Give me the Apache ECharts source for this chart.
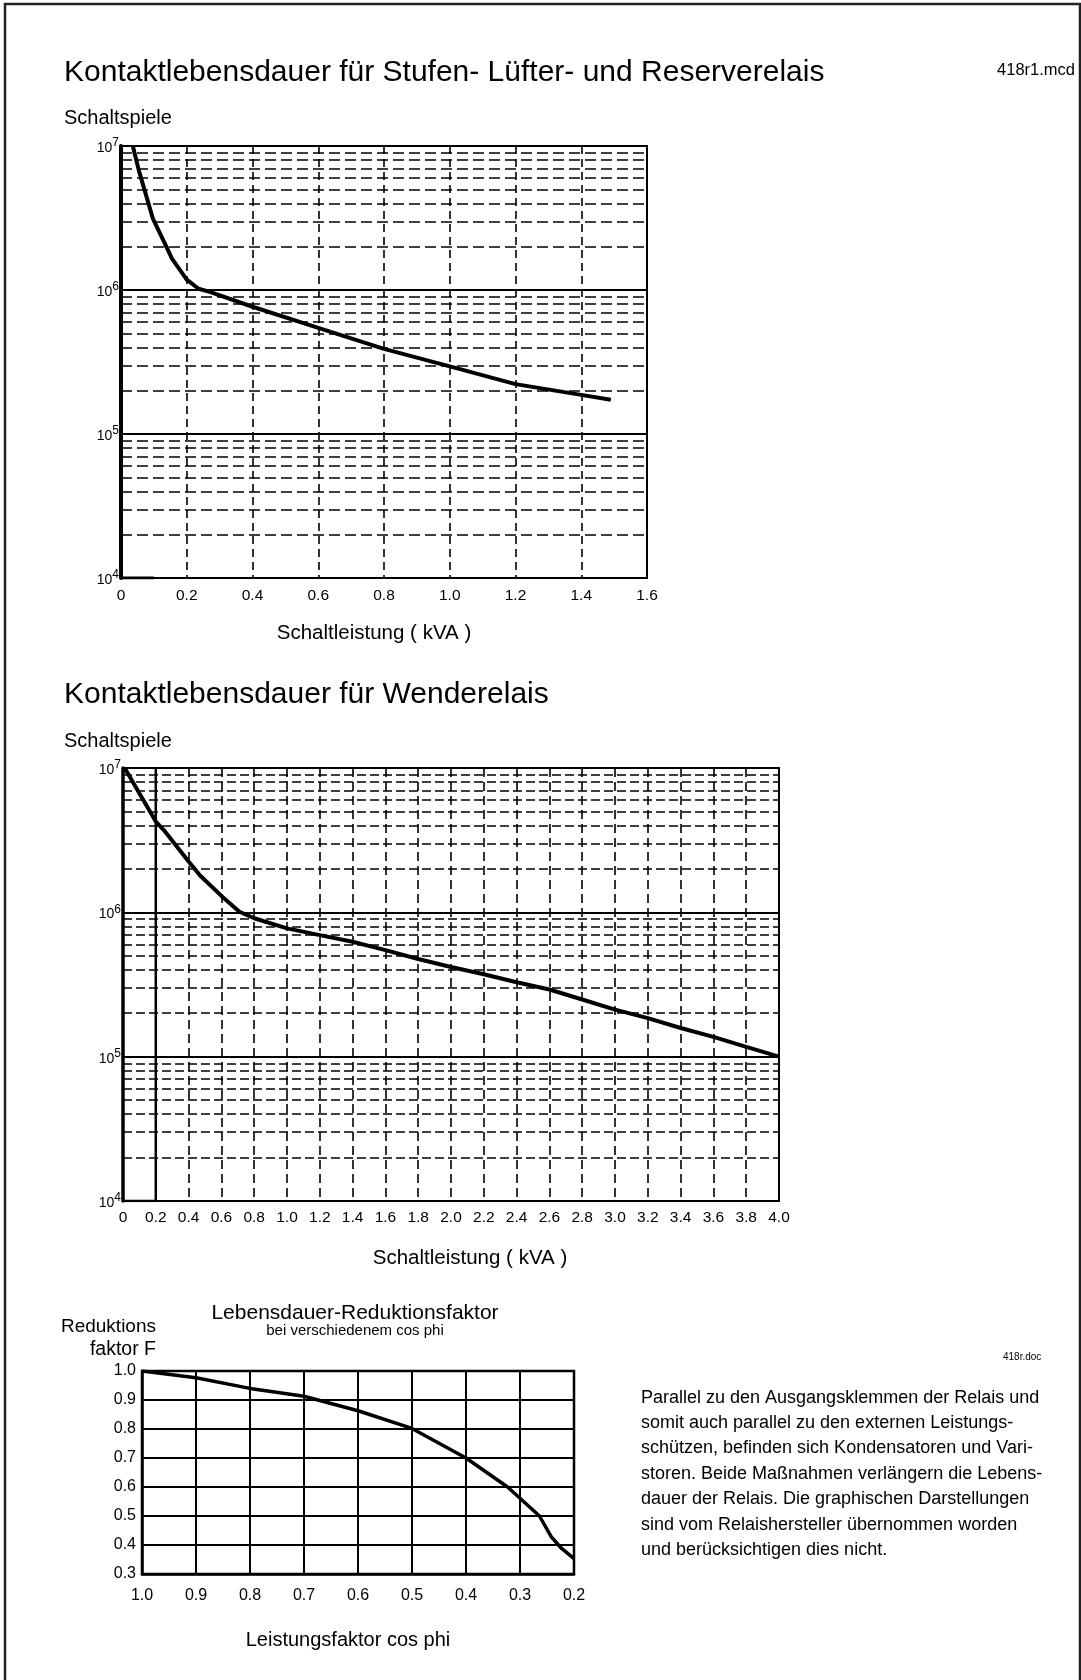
<!DOCTYPE html>
<html>
<head>
<meta charset="utf-8">
<script src="https://cdn.jsdelivr.net/npm/echarts@6/dist/echarts.min.js"></script>
<style>
html,body{margin:0;padding:0;background:#fff;}
#c{width:1081px;height:1680px;}
</style>
</head>
<body>
<div id="c"></div>
<script>
// ---- data ----
const kva1    = [0.036, 0.054, 0.097, 0.138, 0.155, 0.2, 0.236, 0.27, 0.4, 0.6, 0.8, 1.0, 1.2, 1.4, 1.49];
const cycles1 = [1e7, 6.8e6, 3.13e6, 2.0e6, 1.65e6, 1.18e6, 1.02e6, 9.7e5, 7.65e5, 5.46e5, 3.9e5, 2.95e5, 2.22e5, 1.87e5, 1.73e5];
const aux1X   = [0, 0.1];
const aux1Y   = [1e4, 1e4];

const kva2    = [0.01, 0.2, 0.25, 0.4, 0.47, 0.6, 0.71, 0.8, 1.0, 1.2, 1.4, 1.6, 1.8, 2.0, 2.2, 2.4, 2.6, 2.8, 3.0, 3.2, 3.4, 3.6, 3.8, 4.0];
const cycles2 = [1e7, 4.26e6, 3.7e6, 2.25e6, 1.8e6, 1.3e6, 1.01e6, 9.1e5, 7.74e5, 6.95e5, 6.25e5, 5.47e5, 4.75e5, 4.18e5, 3.72e5, 3.28e5, 2.92e5, 2.49e5, 2.12e5, 1.85e5, 1.58e5, 1.37e5, 1.17e5, 1.0e5];
const aux2X   = [0, 0.2, 0.2];
const aux2Y   = [1e4, 1e4, 1e7];

const cosPhi  = [1.0, 0.9, 0.8, 0.7, 0.6, 0.5, 0.4, 0.323, 0.3, 0.264, 0.242, 0.223, 0.2];
const factorF = [1.0, 0.977, 0.94, 0.913, 0.863, 0.802, 0.70, 0.60, 0.561, 0.50, 0.428, 0.388, 0.353];

const decades    = [1e4, 1e5, 1e6];
const minorSteps = [2, 3, 4, 5, 6, 7, 8, 9];

const title1 = 'Kontaktlebensdauer für Stufen- Lüfter- und Reserverelais';
const title2 = 'Kontaktlebensdauer für Wenderelais';
const yName  = 'Schaltspiele';
const xName  = 'Schaltleistung ( kVA )';
const paragraph = [
  'Parallel zu den Ausgangsklemmen der Relais und',
  'somit auch parallel zu den externen Leistungs-',
  'schützen, befinden sich Kondensatoren und Vari-',
  'storen. Beide Maßnahmen verlängern die Lebens-',
  'dauer der Relais. Die graphischen Darstellungen',
  'sind vom Relaishersteller übernommen worden',
  'und berücksichtigen dies nicht.'
];

// ---- build ----
const FONT = '"Liberation Sans", Arial, sans-serif';
const zip = (a, b) => a.map((v, i) => [v, b[i]]);
const minorVals = [];
decades.forEach(d => minorSteps.forEach(m => minorVals.push(d * m)));

function minorMark(dash) {
  return {
    silent: true, symbol: ['none', 'none'], animation: false,
    label: {show: false},
    lineStyle: {color: '#000', width: 1.6, type: dash},
    data: minorVals.map(v => ({yAxis: v}))
  };
}

const logLabel = {
  margin: 2, color: '#000',
  formatter: v => '{b|10}{s|' + Math.round(Math.log10(v)) + '}',
  rich: {
    b: {fontSize: 14, lineHeight: 18, verticalAlign: 'bottom', fontFamily: FONT, color: '#000'},
    s: {fontSize: 12, lineHeight: 18, verticalAlign: 'top', fontFamily: FONT, color: '#000'}
  }
};
const kvaLabel = {
  margin: 10, fontSize: 15.5, color: '#000', fontFamily: FONT,
  formatter: v => (v === 0 ? '0' : v.toFixed(1))
};

function txt(text, x, y, size, align) {
  return {
    type: 'text', x: x, y: y, silent: true,
    style: {
      text: text, font: size + 'px ' + FONT, fill: '#000',
      textAlign: align || 'left', textVerticalAlign: 'middle',
      align: align || 'left', verticalAlign: 'middle'
    }
  };
}

const option = {
  animation: false,
  backgroundColor: '#fff',
  textStyle: {fontFamily: FONT},
  grid: [
    {left: 121, top: 146, width: 526, height: 432, show: true, borderColor: '#000', borderWidth: 2},
    {left: 123, top: 768, width: 656, height: 433, show: true, borderColor: '#000', borderWidth: 2},
    {left: 142, top: 1371, width: 432, height: 203, show: true, borderColor: '#000', borderWidth: 2.5}
  ],
  xAxis: [
    {gridIndex: 0, type: 'value', min: 0, max: 1.6, interval: 0.2,
     axisLine: {show: true, lineStyle: {color: '#000', width: 2}}, axisTick: {show: false},
     axisLabel: kvaLabel,
     splitLine: {show: true, lineStyle: {color: '#000', width: 1.6, type: [8, 5]}}},
    {gridIndex: 1, type: 'value', min: 0, max: 4.0, interval: 0.2,
     axisLine: {show: true, lineStyle: {color: '#000', width: 2}}, axisTick: {show: false},
     axisLabel: Object.assign({}, kvaLabel, {margin: 9}),
     splitLine: {show: true, lineStyle: {color: '#000', width: 1.6, type: [9, 5]}}},
    {gridIndex: 2, type: 'value', min: 0.2, max: 1.0, interval: 0.1, inverse: true,
     axisLine: {show: true, lineStyle: {color: '#000', width: 2.5}}, axisTick: {show: false},
     axisLabel: {margin: 14, fontSize: 16, color: '#000', fontFamily: FONT, formatter: v => v.toFixed(1)},
     splitLine: {show: true, lineStyle: {color: '#000', width: 2}}}
  ],
  yAxis: [
    {gridIndex: 0, type: 'log', logBase: 10, min: 1e4, max: 1e7,
     axisLine: {show: true, lineStyle: {color: '#000', width: 4}}, axisTick: {show: false},
     axisLabel: logLabel,
     splitLine: {show: true, lineStyle: {color: '#000', width: 1.8}}},
    {gridIndex: 1, type: 'log', logBase: 10, min: 1e4, max: 1e7,
     axisLine: {show: true, lineStyle: {color: '#000', width: 3.5}}, axisTick: {show: false},
     axisLabel: logLabel,
     splitLine: {show: true, lineStyle: {color: '#000', width: 1.8}}},
    {gridIndex: 2, type: 'value', min: 0.3, max: 1.0, interval: 0.1,
     axisLine: {show: true, lineStyle: {color: '#000', width: 2.5}}, axisTick: {show: false},
     axisLabel: {margin: 6, fontSize: 16, color: '#000', fontFamily: FONT, formatter: v => v.toFixed(1)},
     splitLine: {show: true, lineStyle: {color: '#000', width: 2}}}
  ],
  series: [
    {type: 'line', xAxisIndex: 0, yAxisIndex: 0, data: zip(kva1, cycles1), showSymbol: false, symbol: 'none',
     lineStyle: {color: '#000', width: 4}, z: 5, markLine: minorMark([11, 5])},
    {type: 'line', xAxisIndex: 0, yAxisIndex: 0, data: zip(aux1X, aux1Y), symbol: 'none',
     lineStyle: {color: '#000', width: 3}, z: 5},
    {type: 'line', xAxisIndex: 1, yAxisIndex: 1, data: zip(kva2, cycles2), showSymbol: false, symbol: 'none',
     lineStyle: {color: '#000', width: 4}, z: 5, markLine: minorMark([9, 4])},
    {type: 'line', xAxisIndex: 1, yAxisIndex: 1, data: zip(aux2X, aux2Y), symbol: 'none',
     lineStyle: {color: '#000', width: 2.5}, z: 5},
    {type: 'line', xAxisIndex: 2, yAxisIndex: 2, data: zip(cosPhi, factorF), symbol: 'none',
     lineStyle: {color: '#000', width: 3.5}, z: 5}
  ],
  graphic: [
    {type: 'rect', silent: true, shape: {x: 5, y: 4, width: 1075, height: 1700},
     style: {fill: 'none', stroke: '#222', lineWidth: 2.5}},
    txt(title1, 64, 73, 30),
    txt('418r1.mcd', 1075, 70, 16.5, 'right'),
    txt(yName, 64, 118, 20),
    txt(xName, 374, 633, 20.5, 'center'),
    txt(title2, 64, 695, 30),
    txt(yName, 64, 741, 20),
    txt(xName, 470, 1258, 20.5, 'center'),
    txt('Reduktions', 156, 1327, 19, 'right'),
    txt('faktor F', 156, 1350, 19.5, 'right'),
    txt('Lebensdauer-Reduktionsfaktor', 355, 1313, 21, 'center'),
    txt('bei verschiedenem cos phi', 355, 1331, 15, 'center'),
    txt('418r.doc', 1003, 1357, 10),
    {type: 'text', x: 641, y: 1385, silent: true,
     style: {text: paragraph.join('\n'), font: '18px ' + FONT, fill: '#000', lineHeight: 25.4,
             textAlign: 'left', textVerticalAlign: 'top', align: 'left', verticalAlign: 'top'}},
    txt('Leistungsfaktor cos phi', 348, 1640, 20, 'center')
  ]
};

const chart = echarts.init(document.getElementById('c'));
chart.setOption(option);
</script>
</body>
</html>
